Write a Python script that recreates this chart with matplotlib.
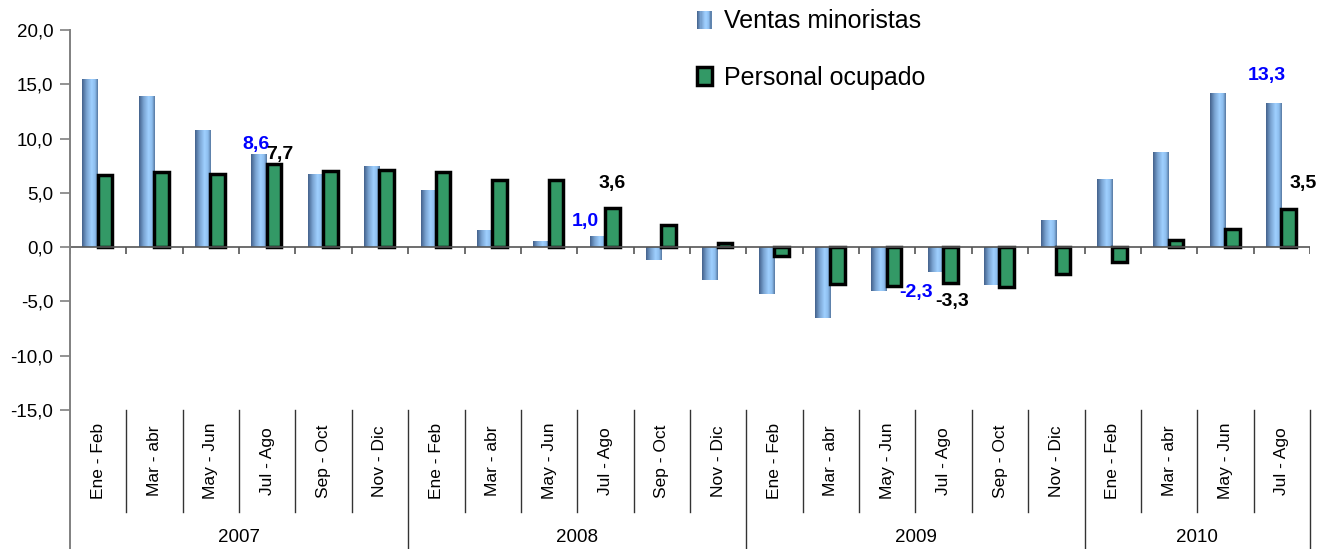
import numpy as np
import matplotlib
matplotlib.use("Agg")
import matplotlib.pyplot as plt
from matplotlib.colors import LinearSegmentedColormap
from matplotlib.transforms import blended_transform_factory
from matplotlib.legend_handler import HandlerBase
from matplotlib.patches import Rectangle
from matplotlib.lines import Line2D

plt.rcParams['font.family'] = ['Liberation Sans', 'DejaVu Sans']

# ---------------- data ----------------
months = ["Ene - Feb", "Mar - abr", "May - Jun", "Jul - Ago", "Sep - Oct", "Nov - Dic"]
years = ["2007", "2008", "2009", "2010"]
months_per_year = [6, 6, 6, 4]
categories = [m for n in months_per_year for m in months[:n]]

ventas = [15.5, 13.9, 10.8, 8.6, 6.7, 7.5,
          5.3, 1.6, 0.6, 1.0, -1.2, -3.0,
          -4.3, -6.5, -4.0, -2.3, -3.5, 2.5,
          6.3, 8.8, 14.2, 13.3]
personal = [6.6, 6.9, 6.7, 7.7, 7.0, 7.1,
            6.9, 6.2, 6.2, 3.6, 2.0, 0.4,
            -0.8, -3.4, -3.6, -3.3, -3.7, -2.5,
            -1.4, 0.7, 1.7, 3.5]
yticks = [-15, -10, -5, 0, 5, 10, 15, 20]
label_idx = [3, 9, 15, 21]
# label offsets in pixels (dx, dy) for ventas and personal
ventas_off = [(-3, 1), (-12, 6), (-20, -12), (-7, 19)]
personal_off = [(6, 1), (0, 16), (2, -10), (15, 17)]

W, H = 1329, 549
fig = plt.figure(figsize=(W / 100, H / 100), dpi=100)
ax_l, ax_r, ax_t, ax_b = 70, 1310, 30, 410
ax = fig.add_axes([ax_l / W, 1 - ax_b / H, (ax_r - ax_l) / W, (ax_b - ax_t) / H])

x = np.arange(len(categories))
n = len(categories)

cmap = LinearSegmentedColormap.from_list(
    'bl', [(0.0, '#42608a'), (0.3, '#7aa4d2'), (0.6, '#9fd0ff'),
           (0.82, '#8dbdee'), (1.0, '#54769e')])

bars_v = ax.bar(x - 0.14, ventas, width=0.28, color='none', edgecolor='none', zorder=2)
grad = np.linspace(0, 1, 256).reshape(1, -1)
for b in bars_v:
    x0, y0 = b.get_x(), b.get_y()
    w, h = b.get_width(), b.get_height()
    im = ax.imshow(grad, cmap=cmap, extent=[x0, x0 + w, min(y0, y0 + h), max(y0, y0 + h)],
                   aspect='auto', zorder=2, interpolation='bilinear')
    im.set_clip_path(b)

bars_p = ax.bar(x + 0.12, personal, width=0.26, color='#339966', edgecolor='black',
                linewidth=2.5, zorder=3)

ax.set_xlim(-0.5, n - 0.5)
ax.set_ylim(-15, 20)

# zero line + ticks
ax.axhline(0, color='#555555', lw=1.2, zorder=4)
ax.vlines(np.arange(-0.5, n), -0.65, 0, color='#555555', lw=1.2, zorder=4)

for s in ax.spines.values():
    s.set_visible(False)
ax.set_yticks(yticks)
ax.set_yticklabels([f"{v:.1f}".replace('.', ',') for v in yticks], fontsize=13.5)
ax.tick_params(axis='y', direction='out', length=7, color='#808080', width=1.2, pad=5)
ax.tick_params(axis='x', bottom=False, labelbottom=False)

# left axis line extending to bottom
fig.add_artist(Line2D([ax_l / W, ax_l / W], [0, 1 - ax_t / H], color='#808080', lw=1.4))

# category axis
bt = blended_transform_factory(ax.transData, fig.transFigure)
for i, c in enumerate(categories):
    ax.text(i, 1 - 461 / H, c, transform=bt, rotation=90, ha='center', va='center',
            fontsize=12.5, clip_on=False)
year_bounds = np.cumsum([0] + months_per_year) - 0.5
for bnd in np.arange(-0.5, n):
    if bnd in year_bounds:
        y_end = 0
    else:
        y_end = 1 - 512 / H
    if bnd == -0.5:
        continue
    ax.plot([bnd, bnd], [1 - ax_b / H, y_end], transform=bt, color='#333333', lw=1.0,
            clip_on=False)
for k, yname in enumerate(years):
    c = (year_bounds[k] + year_bounds[k + 1]) / 2
    ax.text(c, 1 - 537 / H, yname, transform=bt, ha='center', va='center', fontsize=13.5,
            clip_on=False)

# data labels
for k, i in enumerate(label_idx):
    v = ventas[i]
    dx, dy = ventas_off[k]
    ax.annotate(f"{v:.1f}".replace('.', ','), (i - 0.14, v), xytext=(dx, dy),
                textcoords='offset pixels', ha='center',
                va='bottom' if v >= 0 else 'top', color='#0000ff', fontsize=14,
                fontweight='bold', zorder=6)
    p = personal[i]
    dx, dy = personal_off[k]
    ax.annotate(f"{p:.1f}".replace('.', ','), (i + 0.12, p), xytext=(dx, dy),
                textcoords='offset pixels', ha='center',
                va='bottom' if p >= 0 else 'top', color='black', fontsize=14,
                fontweight='bold', zorder=6)


class GradHandler(HandlerBase):
    def create_artists(self, legend, orig_handle, xdescent, ydescent, width, height,
                       fontsize, trans):
        m = 12
        arts = []
        for k in range(m):
            arts.append(Rectangle((-xdescent + k * width / m, -ydescent), width / m, height,
                                  facecolor=cmap((k + 0.5) / m), edgecolor='none',
                                  transform=trans))
        return arts


h1 = Rectangle((0, 0), 1, 1, label='Ventas minoristas')
h2 = Rectangle((0, 0), 1, 1, facecolor='#339966', edgecolor='black', lw=2.5,
               label='Personal ocupado')
fig.legend(handles=[h1, h2], handler_map={h1: GradHandler()}, loc='upper left',
           bbox_to_anchor=(684 / W, 1.0 + 3 / H), frameon=False, fontsize=18,
           handlelength=0.6, handleheight=0.75, handletextpad=0.5, labelspacing=1.3,
           borderaxespad=0.1)

fig.savefig('out.png', dpi=100)
